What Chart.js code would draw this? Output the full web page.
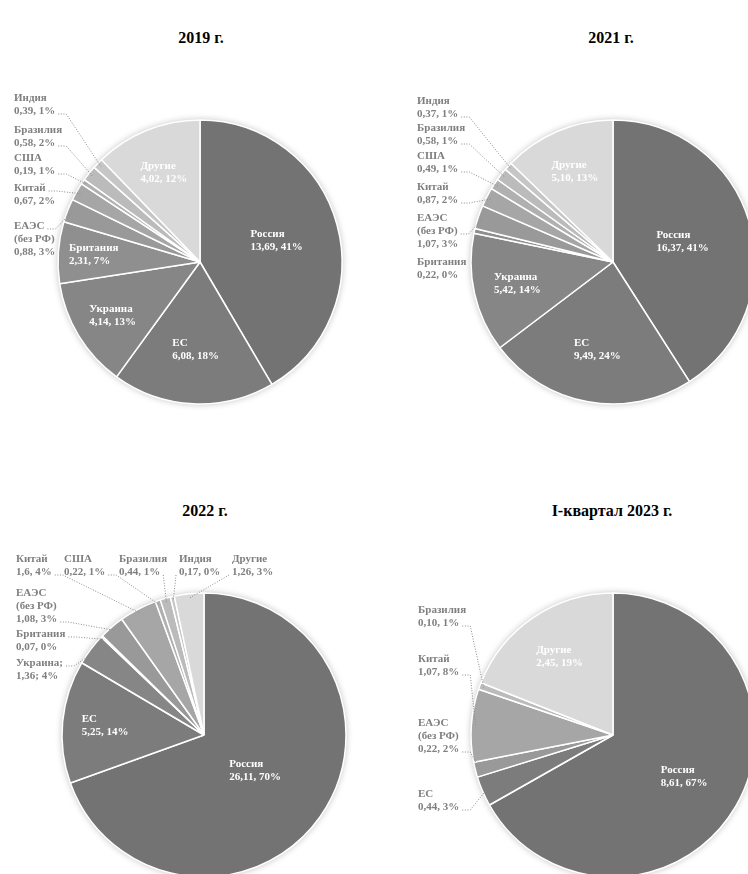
<!DOCTYPE html>
<html lang="ru">
<head>
<meta charset="utf-8">
<title>Структура по странам</title>
<script src="https://cdn.jsdelivr.net/npm/chart.js@4.4.1/dist/chart.umd.min.js"></script>
<style>
  html, body { margin: 0; padding: 0; width: 748px; height: 874px; overflow: hidden; background: #fff; }
  canvas { position: absolute; left: 0; top: 0; }
  .title {
    position: absolute;
    transform: translate(-50%, -50%);
    font: bold 16px "Liberation Serif", "Times New Roman", serif;
    color: #000;
    white-space: nowrap;
  }
</style>
</head>
<body>
<div class="title" style="left:201px; top:38px">2019 г.</div>
<div class="title" style="left:611px; top:38px">2021 г.</div>
<div class="title" style="left:205px; top:511px">2022 г.</div>
<div class="title" style="left:612px; top:511px">I-квартал 2023 г.</div>

<canvas id="pie2019" width="800" height="920"></canvas>
<canvas id="pie2021" width="800" height="920"></canvas>
<canvas id="pie2022" width="800" height="920"></canvas>
<canvas id="pie2023" width="800" height="920"></canvas>

<script>
// ---- data ----
const countries = ['Россия', 'ЕС', 'Украина', 'Британия', 'ЕАЭС\n(без РФ)', 'Китай', 'США', 'Бразилия', 'Индия', 'Другие'];

const values2019 = [13.69, 6.08, 4.14, 2.31, 0.88, 0.67, 0.19, 0.58, 0.39, 4.02];
const shares2019 = [41, 18, 13, 7, 3, 2, 1, 2, 1, 12];

const values2021 = [16.37, 9.49, 5.42, 0.22, 1.07, 0.87, 0.49, 0.58, 0.37, 5.10];
const shares2021 = [41, 24, 14, 0, 3, 2, 1, 1, 1, 13];

const values2022 = [26.11, 5.25, 1.36, 0.07, 1.08, 1.6, 0.22, 0.44, 0.17, 1.26];
const shares2022 = [70, 14, 4, 0, 3, 4, 1, 1, 0, 3];

const countries2023 = ['Россия', 'ЕС', 'ЕАЭС\n(без РФ)', 'Китай', 'Бразилия', 'Другие'];
const values2023 = [8.61, 0.44, 0.22, 1.07, 0.10, 2.45];
const shares2023 = [67, 3, 2, 8, 1, 19];

// ---- styles ----
const greys = {
  'Россия': '#737373',
  'ЕС': '#7c7c7c',
  'Украина': '#868686',
  'Британия': '#8f8f8f',
  'ЕАЭС\n(без РФ)': '#999999',
  'Китай': '#a6a6a6',
  'США': '#b0b0b0',
  'Бразилия': '#bbbbbb',
  'Индия': '#c6c6c6',
  'Другие': '#d9d9d9'
};
const W = 800, H = 920, R = 142;
const labelFont = 'bold 11px "Liberation Serif", "Times New Roman", serif';

function fmt(v, digits) {
  return v.toFixed(digits).replace('.', ',');
}

// soft shadow under the pie
const pieShadow = {
  id: 'pieShadow',
  beforeDatasetsDraw(chart) {
    const arc = chart.getDatasetMeta(0).data[0];
    if (!arc) return;
    const p = arc.getProps(['x', 'y', 'outerRadius'], true);
    const ctx = chart.ctx;
    ctx.save();
    ctx.shadowColor = 'rgba(0,0,0,0.28)';
    ctx.shadowBlur = 7;
    ctx.fillStyle = '#fff';
    ctx.beginPath();
    ctx.arc(p.x, p.y, p.outerRadius, 0, Math.PI * 2);
    ctx.fill();
    ctx.restore();
  }
};

// data labels, inside or outside with dotted leader lines
const sliceLabels = {
  id: 'sliceLabels',
  afterDatasetsDraw(chart, args, opts) {
    const ctx = chart.ctx;
    const meta = chart.getDatasetMeta(0);
    const values = chart.data.datasets[0].data;
    const names = chart.data.labels;
    const shares = opts.shares;
    ctx.save();
    ctx.font = labelFont;
    ctx.textBaseline = 'middle';
    ctx.textAlign = 'left';
    const lh = 13;
    opts.items.forEach(it => {
      const arc = meta.data[it.i];
      const p = arc.getProps(['x', 'y', 'startAngle', 'endAngle', 'outerRadius'], true);
      const mid = (p.startAngle + p.endAngle) / 2;
      const sep = it.sep || ',';
      const lines = names[it.i].split('\n');
      if (it.sep) lines[lines.length - 1] += it.sep;
      lines.push(fmt(values[it.i], it.digits || 2) + sep + ' ' + shares[it.i] + '%');

      if (it.r) {
        const cx = p.x + Math.cos(mid) * p.outerRadius * it.r;
        const cy = p.y + Math.sin(mid) * p.outerRadius * it.r;
        const w = Math.max(...lines.map(l => ctx.measureText(l).width));
        const y0 = cy - (lines.length - 1) * lh / 2;
        ctx.fillStyle = '#ffffff';
        lines.forEach((l, k) => ctx.fillText(l, cx - w / 2, y0 + k * lh));
        return;
      }

      ctx.fillStyle = '#7f7f7f';
      lines.forEach((l, k) => ctx.fillText(l, it.x, it.y + k * lh));
      if (it.from === undefined) return;

      const ly = it.y + it.from * lh;
      const side = it.side || 'right';
      const h = it.h === undefined ? 8 : it.h;
      let sx, hx;
      if (side === 'right') {
        sx = it.x + ctx.measureText(lines[it.from]).width + 3;
        hx = sx + h;
      } else {
        sx = it.x - 3;
        hx = sx - h;
      }
      const ax = p.x + Math.cos(mid) * p.outerRadius * 0.97;
      const ay = p.y + Math.sin(mid) * p.outerRadius * 0.97;
      ctx.strokeStyle = '#8a8a8a';
      ctx.lineWidth = 1;
      ctx.setLineDash([1, 1.6]);
      ctx.beginPath();
      ctx.moveTo(sx, ly + 3);
      ctx.lineTo(hx, ly + 3);
      ctx.lineTo(ax, ay);
      ctx.stroke();
      ctx.setLineDash([]);
    });
    ctx.restore();
  }
};

function makePie(id, names, values, shares, cx, cy, items) {
  return new Chart(document.getElementById(id), {
    type: 'pie',
    data: {
      labels: names,
      datasets: [{
        data: values,
        backgroundColor: names.map(n => greys[n]),
        borderColor: '#ffffff',
        borderWidth: 1.5,
        radius: R
      }]
    },
    options: {
      responsive: false,
      animation: false,
      layout: {
        padding: { left: cx - 150, top: cy - 150, right: W - cx - 150, bottom: H - cy - 150 }
      },
      plugins: {
        legend: { display: false },
        tooltip: { enabled: false },
        sliceLabels: { shares: shares, items: items }
      }
    },
    plugins: [pieShadow, sliceLabels]
  });
}

makePie('pie2019', countries, values2019, shares2019, 200, 262, [
  { i: 0, r: 0.56 }, { i: 1, r: 0.62 }, { i: 2, r: 0.72 }, { i: 3, r: 0.75 }, { i: 9, r: 0.68 },
  { i: 8, x: 14, y: 98, from: 1 },
  { i: 7, x: 14, y: 130, from: 1 },
  { i: 6, x: 14, y: 158, from: 1 },
  { i: 5, x: 14, y: 188, from: 0 },
  { i: 4, x: 14, y: 226, from: 0 }
]);

makePie('pie2021', countries, values2021, shares2021, 613, 262, [
  { i: 0, r: 0.51 }, { i: 1, r: 0.63 }, { i: 2, r: 0.69 }, { i: 9, r: 0.69 },
  { i: 8, x: 417, y: 101, from: 1 },
  { i: 7, x: 417, y: 128, from: 1 },
  { i: 6, x: 417, y: 156, from: 1 },
  { i: 5, x: 417, y: 187, from: 1 },
  { i: 4, x: 417, y: 218, from: 1 },
  { i: 3, x: 417, y: 262 }
]);

makePie('pie2022', countries, values2022, shares2022, 204, 735, [
  { i: 0, r: 0.44 }, { i: 1, r: 0.70 },
  { i: 5, x: 16, y: 559, from: 1, digits: 1 },
  { i: 6, x: 64, y: 559, from: 1 },
  { i: 7, x: 119, y: 559, from: 1, h: 0 },
  { i: 8, x: 179, y: 559, from: 1, side: 'left', h: 0 },
  { i: 9, x: 232, y: 559, from: 1, side: 'left', h: 0 },
  { i: 4, x: 16, y: 593, from: 2 },
  { i: 3, x: 16, y: 634, from: 0 },
  { i: 2, x: 16, y: 663, from: 0, sep: ';' }
]);

makePie('pie2023', countries2023, values2023, shares2023, 613, 735, [
  { i: 0, r: 0.58 }, { i: 5, r: 0.67 },
  { i: 4, x: 418, y: 610, from: 1 },
  { i: 3, x: 418, y: 659, from: 1 },
  { i: 2, x: 418, y: 723, from: 2 },
  { i: 1, x: 418, y: 794, from: 1 }
]);
</script>
</body>
</html>
